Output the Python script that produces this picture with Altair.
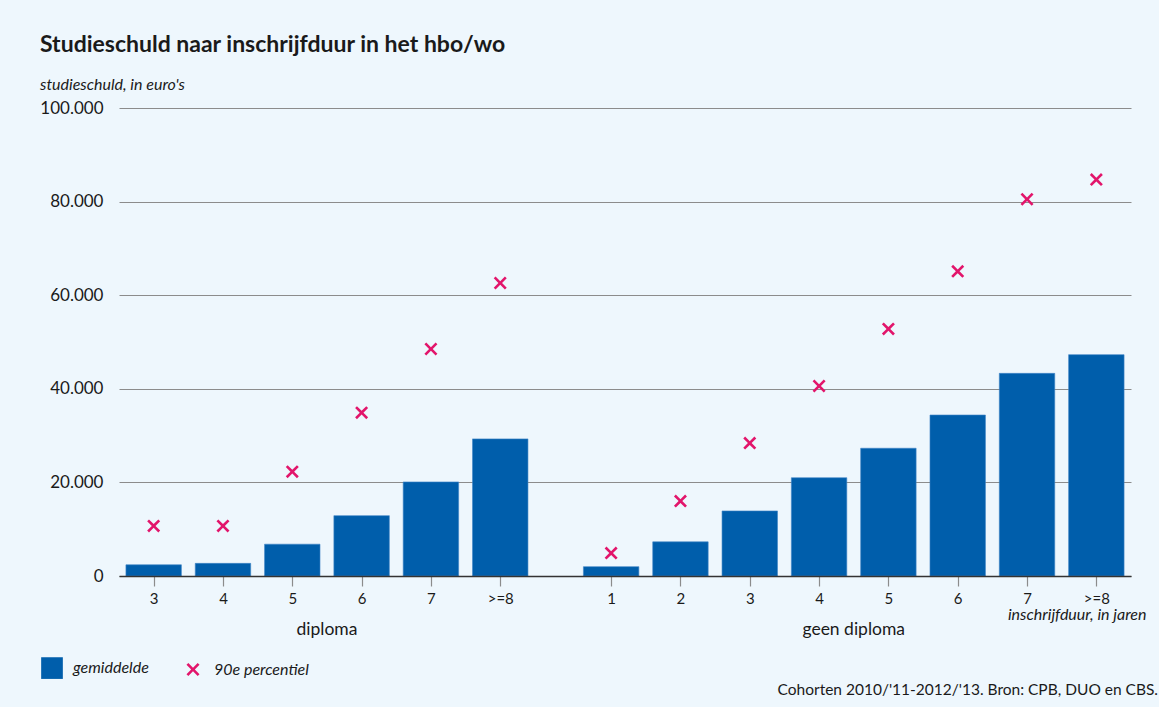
import altair as alt
import pandas as pd

# Study debt by enrolment duration, split by graduation status
title = "Studieschuld naar inschrijfduur in het hbo/wo"
subtitle = "studieschuld, in euro's"
source = "Cohorten 2010/'11-2012/'13. Bron: CPB, DUO en CBS."
x_title = "inschrijfduur, in jaren"

groups = ["diploma", "geen diploma"]

diploma_years = ["3", "4", "5", "6", "7", ">=8"]
diploma_mean = [2400, 2700, 6800, 12900, 20100, 29300]
diploma_p90 = [10700, 10700, 22300, 34900, 48500, 62600]

geen_years = ["1", "2", "3", "4", "5", "6", "7", ">=8"]
geen_mean = [2000, 7300, 13900, 21000, 27300, 34400, 43300, 47300]
geen_p90 = [4900, 16000, 28400, 40600, 52800, 65100, 80500, 84700]

series = ["gemiddelde", "90e percentiel"]
y_ticks = [0, 20000, 40000, 60000, 80000, 100000]

# layout: one bar step per category, wider gap between the two groups
GROUP_GAP = 1.6
BAR_HALF = 0.4

BLUE = "#005eab"
PINK = "#e2156b"
INK = "#1a1a1a"
GRID = "#8c8c8c"
BG = "#eef7fd"
FONT = "Lato"

rows = []
for i, (lab, m, p) in enumerate(zip(diploma_years, diploma_mean, diploma_p90)):
    rows.append({"groep": groups[0], "jaar": lab, "pos": float(i),
                 series[0]: m, series[1]: p})
start = len(diploma_years) - 1 + GROUP_GAP
for j, (lab, m, p) in enumerate(zip(geen_years, geen_mean, geen_p90)):
    rows.append({"groep": groups[1], "jaar": lab, "pos": round(start + j, 2),
                 series[0]: m, series[1]: p})
df = pd.DataFrame(rows)

positions = df["pos"].tolist()
tick_labels = df["jaar"].tolist()

group_df = df.groupby("groep", as_index=False)["pos"].mean()

x_domain = [positions[0] - 0.5, positions[-1] + 0.5]
x_scale = alt.Scale(domain=x_domain, nice=False, zero=False)
y_scale = alt.Scale(domain=[0, 100000], nice=False)

pos_js = "[" + ",".join(repr(p) for p in positions) + "]"
lab_js = "[" + ",".join("'" + t + "'" for t in tick_labels) + "]"

x_axis = alt.Axis(
    values=positions,
    labelExpr=f"{lab_js}[indexof({pos_js}, datum.value)]",
    grid=False,
    ticks=True, tickSize=10, tickColor=GRID, tickWidth=1.2,
    domain=True, domainColor="#333333", domainWidth=1.6,
    labelPadding=5, labelFontSize=15, labelColor=INK, labelFont=FONT,
    title=x_title, titleFont=FONT, titleFontSize=16, titleFontStyle="italic",
    titleFontWeight="normal", titleColor=INK, titleAlign="right",
    titleBaseline="alphabetic", titleX=1027, titleY=43,
    zindex=1,
)
y_axis = alt.Axis(
    values=y_ticks,
    labelExpr="replace(format(datum.value, ','), ',', '.')",
    grid=True, gridColor=GRID, gridWidth=1,
    domain=False, ticks=False,
    labelPadding=16, labelFontSize=17, labelColor=INK, labelFont=FONT,
    title=None,
)

# square for the mean bars, a filled "x" for the percentile markers
square_path = "M-1,-1H1V1H-1Z"
a = 0.17
s = 0.6
x_path = (
    f"M{-s},{-s + a}L{-s + a},{-s}L0,{-a}L{s - a},{-s}L{s},{-s + a}L{a},0"
    f"L{s},{s - a}L{s - a},{s}L0,{a}L{-s + a},{s}L{-s},{s - a}L{-a},0Z"
)

legend = alt.Legend(
    orient="none", legendX=-78, legendY=549, direction="horizontal",
    title=None, symbolSize=470, symbolStrokeWidth=0,
    labelFont=FONT, labelFontSize=16, labelFontStyle="italic",
    labelColor=INK, labelOffset=10, columnPadding=33,
)
color = alt.Color(
    "serie:N", scale=alt.Scale(domain=series, range=[BLUE, PINK]), legend=legend
)
shape = alt.Shape(
    "serie:N", scale=alt.Scale(domain=series, range=[square_path, x_path]),
    legend=legend,
)

base = alt.Chart(df).transform_fold(series, as_=["serie", "waarde"])

bars = base.transform_filter(alt.datum.serie == series[0]).transform_calculate(
    lo=f"datum.pos - {BAR_HALF}", hi=f"datum.pos + {BAR_HALF}"
).mark_bar(stroke="#3f84c6", strokeWidth=0.6).encode(
    x=alt.X("lo:Q", scale=x_scale, axis=x_axis),
    x2="hi:Q",
    y=alt.Y("waarde:Q", scale=y_scale, axis=y_axis),
    y2=alt.datum(0),
    color=color,
)

points = base.transform_filter(alt.datum.serie == series[1]).mark_point(
    filled=True, size=470, opacity=1, strokeWidth=0
).encode(
    x=alt.X("pos:Q", scale=x_scale),
    y=alt.Y("waarde:Q", scale=y_scale),
    color=color,
    shape=shape,
)

group_labels = alt.Chart(group_df).mark_text(
    font=FONT, fontSize=17.5, color=INK, baseline="middle"
).encode(
    x=alt.X("pos:Q", scale=x_scale),
    y=alt.value(522),
    text="groep:N",
)

source_text = alt.Chart(pd.DataFrame({"t": [source]})).mark_text(
    font=FONT, fontSize=15.5, color=INK, align="right", baseline="middle"
).encode(
    x=alt.value(1039),
    y=alt.value(582),
    text="t:N",
)

chart = alt.layer(bars, points, group_labels, source_text).properties(
    width=1012,
    height=468,
    background=BG,
    padding={"left": 119, "top": 108, "right": 28, "bottom": 131},
    autosize=alt.AutoSizeParams(type="none"),
    title=alt.TitleParams(
        text=title, subtitle=subtitle, anchor="start", frame="group",
        dx=-79, offset=6,
        font=FONT, fontSize=23, fontWeight="bold", color=INK,
        subtitleFont=FONT, subtitleFontSize=16, subtitleFontStyle="italic",
        subtitleColor=INK, subtitlePadding=20,
    ),
).configure_view(stroke=None)

chart.save("out.html", embed_options={"renderer": "svg", "actions": False})
